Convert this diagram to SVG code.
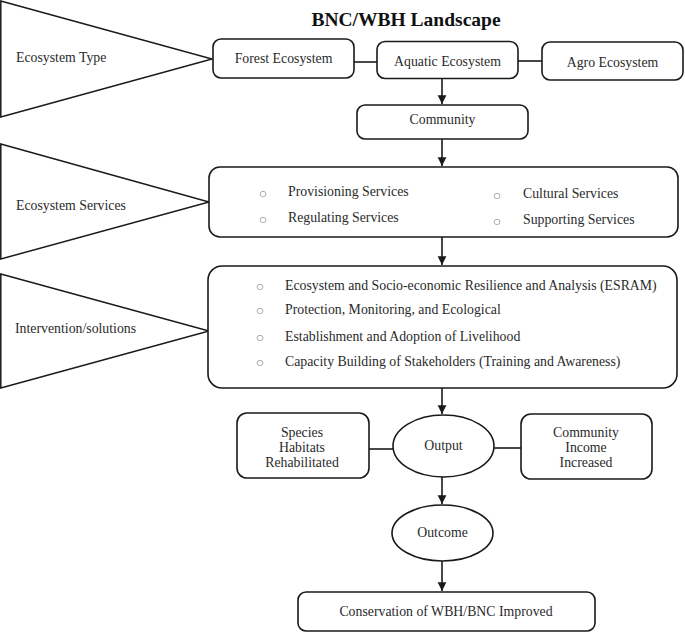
<svg xmlns="http://www.w3.org/2000/svg" width="685" height="633" viewBox="0 0 685 633">
<defs>
<style>
.bg{fill:#ffffff}
.shape{fill:#ffffff;stroke:#1a1a1a;stroke-width:1.6}
.tri{fill:#ffffff;stroke:#1a1a1a;stroke-width:1.5}
.line{stroke:#1a1a1a;stroke-width:1.6;fill:none}
.t{font-family:"Liberation Serif","DejaVu Serif",serif;font-size:13.8px;fill:#2a2a2a}
.c{text-anchor:middle}
.title{font-family:"Liberation Serif","DejaVu Serif",serif;font-size:19.5px;font-weight:bold;fill:#111111;text-anchor:middle}
.b{font-family:"DejaVu Sans",sans-serif;font-size:8px;fill:#444444;text-anchor:middle}
</style>
<marker id="arr" viewBox="0 0 10 10" refX="10" refY="5" markerWidth="5.5" markerHeight="6.5" markerUnits="strokeWidth" orient="auto">
<path d="M0,0 L10,5 L0,10 z" fill="#1a1a1a"/>
</marker>
</defs>
<rect class="bg" x="0" y="0" width="685" height="633"/>

<text class="title" x="406" y="26">BNC/WBH Landscape</text>

<g id="tri-ecosystem-type">
<polygon class="tri" points="0.8,1 212,59 0.8,117"/>
<text class="t" x="16" y="62">Ecosystem Type</text>
</g>
<g id="tri-ecosystem-services">
<polygon class="tri" points="0.8,144 209,202 0.8,259"/>
<text class="t" x="16" y="210">Ecosystem Services</text>
</g>
<g id="tri-intervention">
<polygon class="tri" points="0.8,274 209,331 0.8,388"/>
<text class="t" x="15" y="333">Intervention/solutions</text>
</g>

<g id="connectors">
<line class="line" x1="354" y1="62" x2="377" y2="62"/>
<line class="line" x1="518" y1="61" x2="542" y2="61"/>
<line class="line" x1="442" y1="78" x2="442" y2="104" marker-end="url(#arr)"/>
<line class="line" x1="442" y1="139" x2="442" y2="166" marker-end="url(#arr)"/>
<line class="line" x1="442" y1="237" x2="442" y2="265" marker-end="url(#arr)"/>
<line class="line" x1="442" y1="388" x2="442" y2="414" marker-end="url(#arr)"/>
<line class="line" x1="369" y1="449" x2="393" y2="449"/>
<line class="line" x1="494" y1="448" x2="521" y2="448"/>
<line class="line" x1="442" y1="477" x2="442" y2="504" marker-end="url(#arr)"/>
<line class="line" x1="442" y1="561" x2="442" y2="591" marker-end="url(#arr)"/>
</g>

<g id="forest">
<rect class="shape" x="213" y="39" width="141" height="39" rx="8"/>
<text class="t c" x="283.5" y="63">Forest Ecosystem</text>
</g>
<g id="aquatic">
<rect class="shape" x="377" y="41.5" width="141" height="37" rx="8"/>
<text class="t c" x="447.5" y="66">Aquatic Ecosystem</text>
</g>
<g id="agro">
<rect class="shape" x="542" y="42" width="141" height="38" rx="8"/>
<text class="t c" x="612.5" y="67">Agro Ecosystem</text>
</g>
<g id="community">
<rect class="shape" x="357" y="105" width="171" height="34" rx="8"/>
<text class="t c" x="442.5" y="124">Community</text>
</g>
<g id="services">
<rect class="shape" x="209" y="167" width="469" height="70" rx="11"/>
<text class="b" x="263" y="196">○</text>
<text class="t" x="288" y="196">Provisioning Services</text>
<text class="b" x="263" y="222">○</text>
<text class="t" x="288" y="222">Regulating Services</text>
<text class="b" x="497" y="198">○</text>
<text class="t" x="523" y="198">Cultural Services</text>
<text class="b" x="497" y="224">○</text>
<text class="t" x="523" y="224">Supporting Services</text>
</g>
<g id="intervention">
<rect class="shape" x="208" y="266" width="469" height="122" rx="14"/>
<text class="b" x="260" y="289">○</text>
<text class="t" x="285" y="290">Ecosystem and Socio-economic Resilience and Analysis (ESRAM)</text>
<text class="b" x="260" y="313">○</text>
<text class="t" x="285" y="314">Protection, Monitoring, and Ecological</text>
<text class="b" x="260" y="340">○</text>
<text class="t" x="285" y="341">Establishment and Adoption of Livelihood</text>
<text class="b" x="260" y="365">○</text>
<text class="t" x="285" y="366">Capacity Building of Stakeholders (Training and Awareness)</text>
</g>
<g id="species">
<rect class="shape" x="237" y="413" width="132" height="65" rx="10"/>
<text class="t c" x="302" y="437">Species</text>
<text class="t c" x="302" y="452">Habitats</text>
<text class="t c" x="302" y="467">Rehabilitated</text>
</g>
<g id="output">
<ellipse class="shape" cx="443.5" cy="446" rx="50.5" ry="31"/>
<text class="t c" x="443.5" y="450">Output</text>
</g>
<g id="income">
<rect class="shape" x="521" y="414" width="131" height="65" rx="10"/>
<text class="t c" x="586" y="437">Community</text>
<text class="t c" x="586" y="452">Income</text>
<text class="t c" x="586" y="467">Increased</text>
</g>
<g id="outcome">
<ellipse class="shape" cx="442.5" cy="533" rx="50.5" ry="28"/>
<text class="t c" x="442.5" y="537">Outcome</text>
</g>
<g id="conservation">
<rect class="shape" x="298" y="592" width="297" height="39" rx="8"/>
<text class="t c" x="446" y="616">Conservation of WBH/BNC Improved</text>
</g>
</svg>
